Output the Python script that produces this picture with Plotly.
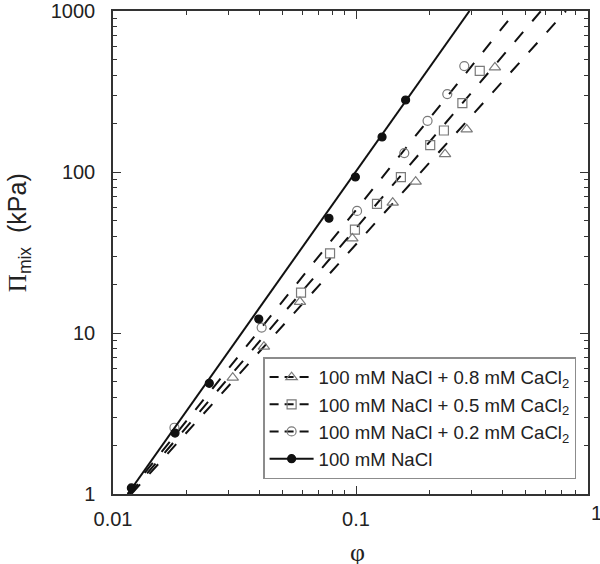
import plotly.graph_objects as go

# osmotic pressure vs polymer fraction
phi_nacl = [0.0119, 0.018, 0.0249, 0.0398, 0.0774, 0.0994, 0.128, 0.160]
pi_nacl = [1.09, 2.39, 4.87, 12.2, 51.6, 93.1, 165, 280]

phi_ca02 = [0.0179, 0.0409, 0.101, 0.158, 0.197, 0.2375, 0.279]
pi_ca02 = [2.58, 10.8, 57.3, 131, 208, 305, 455]

phi_ca05 = [0.0594, 0.0782, 0.099, 0.122, 0.153, 0.202, 0.230, 0.274, 0.323]
pi_ca05 = [17.8, 31.2, 43.9, 63.3, 92.8, 147, 181, 268, 425]

phi_ca08 = [0.0311, 0.0418, 0.0588, 0.0966, 0.1416, 0.176, 0.2325, 0.2855, 0.373]
pi_ca08 = [5.28, 8.22, 15.6, 38.7, 64.5, 87.1, 129, 184, 446]

# power-law fit lines, end points where they meet the frame
fit_pi = [1, 1000]
fit_phi_nacl = [0.0115, 0.293]
fit_phi_ca02 = [0.0115, 0.455]
fit_phi_ca05 = [0.0117, 0.577]
fit_phi_ca08 = [0.0119, 0.731]

names = [
    "100 mM NaCl + 0.8 mM CaCl<sub>2</sub>",
    "100 mM NaCl + 0.5 mM CaCl<sub>2</sub>",
    "100 mM NaCl + 0.2 mM CaCl<sub>2</sub>",
    "100 mM NaCl",
]

x_ticks = [0.01, 0.1]
x_ticktext = ["0.01", "0.1"]
y_ticks = [1, 10, 100, 1000]
y_ticktext = ["1", "10", "100", "1000"]

GRAY = "#7a7a7a"
INK = "#111111"
FONT = "Liberation Sans"
DASH = "13px,14px"

series = [
    (phi_ca08, pi_ca08, fit_phi_ca08, "triangle-up-open", GRAY, 10, DASH),
    (phi_ca05, pi_ca05, fit_phi_ca05, "square-open", GRAY, 9, DASH),
    (phi_ca02, pi_ca02, fit_phi_ca02, "circle-open", GRAY, 9, DASH),
    (phi_nacl, pi_nacl, fit_phi_nacl, "circle", INK, 8, "solid"),
]

fig = go.Figure()

for (px_, py_, fx, sym, col, size, dash), name in zip(series, names):
    fig.add_trace(
        go.Scatter(
            x=fx, y=fit_pi, mode="lines",
            line=dict(color=INK, width=2, dash=dash),
            showlegend=False, hoverinfo="skip",
        )
    )
    fig.add_trace(
        go.Scatter(
            x=px_, y=py_, mode="markers",
            marker=dict(symbol=sym, color=col, size=size, line=dict(width=1.2, color=col)),
            showlegend=False,
        )
    )

# legend-only entries (line + marker sample)
for i, ((px_, py_, fx, sym, col, size, dash), name) in enumerate(zip(series, names)):
    fig.add_trace(
        go.Scatter(
            x=[None], y=[None], mode="lines+markers", name=name,
            legendgroup=f"g{i}",
            line=dict(color=INK, width=2, dash="9px,6px" if dash != "solid" else "solid"),
            marker=dict(symbol=sym, color=col, size=size, line=dict(width=1.2, color=col)),
        )
    )

minor_x = [m * 10 ** e for e in (-2, -1) for m in range(2, 10)]
minor_y = [m * 10 ** e for e in (0, 1, 2) for m in range(2, 10)]

axis_common = dict(
    type="log",
    automargin=False,
    showgrid=False,
    zeroline=False,
    showline=True,
    linecolor="#333333",
    linewidth=1.5,
    mirror="ticks",
    ticks="inside",
    ticklen=8,
    tickwidth=1.3,
    tickcolor="#333333",
    tickfont=dict(family=FONT, size=20, color="#222222"),
    tickmode="array",
)

fig.update_xaxes(
    **axis_common,
    range=[-2, -0.0453],
    tickvals=x_ticks,
    ticktext=x_ticktext,
    ticklabelstandoff=6,
    minor=dict(ticks="inside", ticklen=4, tickwidth=1.2, tickcolor="#333333",
               tickmode="array", tickvals=minor_x, showgrid=False),
)
fig.update_yaxes(
    **axis_common,
    range=[0, 3],
    tickvals=y_ticks,
    ticktext=y_ticktext,
    ticklabelstandoff=12,
    minor=dict(ticks="inside", ticklen=4, tickwidth=1.2, tickcolor="#333333",
               tickmode="array", tickvals=minor_y, showgrid=False),
)

fig.update_layout(
    width=600,
    height=564,
    margin=dict(l=113, r=12, t=11, b=70),
    paper_bgcolor="white",
    plot_bgcolor="white",
    font=dict(family=FONT, color="#222222"),
    legend=dict(
        x=0.316, y=0.2836, xanchor="left", yanchor="top",
        bgcolor="white", bordercolor="#8c8c8c", borderwidth=1.5,
        font=dict(family=FONT, size=18.6, color="#222222"),
        traceorder="normal", itemwidth=44, tracegroupgap=5,
    ),
    annotations=[
        # tick label "1" sits past the frame's right edge
        dict(text="1", xref="paper", yref="paper", x=1.017, y=0,
             xanchor="center", yanchor="top", yshift=-6, showarrow=False,
             font=dict(family=FONT, size=20, color="#222222")),
        dict(text="<span style='font-family:Liberation Serif'>φ</span>",
             xref="paper", yref="paper", x=0.514, y=-0.122,
             xanchor="center", yanchor="middle", showarrow=False,
             font=dict(family=FONT, size=26, color="#222222")),
        dict(text="<span style='font-family:Liberation Serif'>Π</span><sub>mix</sub>  (kPa)",
             xref="paper", yref="paper", x=-0.198, y=0.542,
             xanchor="center", yanchor="middle", textangle=-90, showarrow=False,
             font=dict(family=FONT, size=25, color="#222222")),
    ],
)

# page body has a default 8px margin; drop it so the figure sits at the window corner
fig.write_html(
    "out.html",
    config={"displayModeBar": False},
    post_script="document.body.style.margin='0';",
)
